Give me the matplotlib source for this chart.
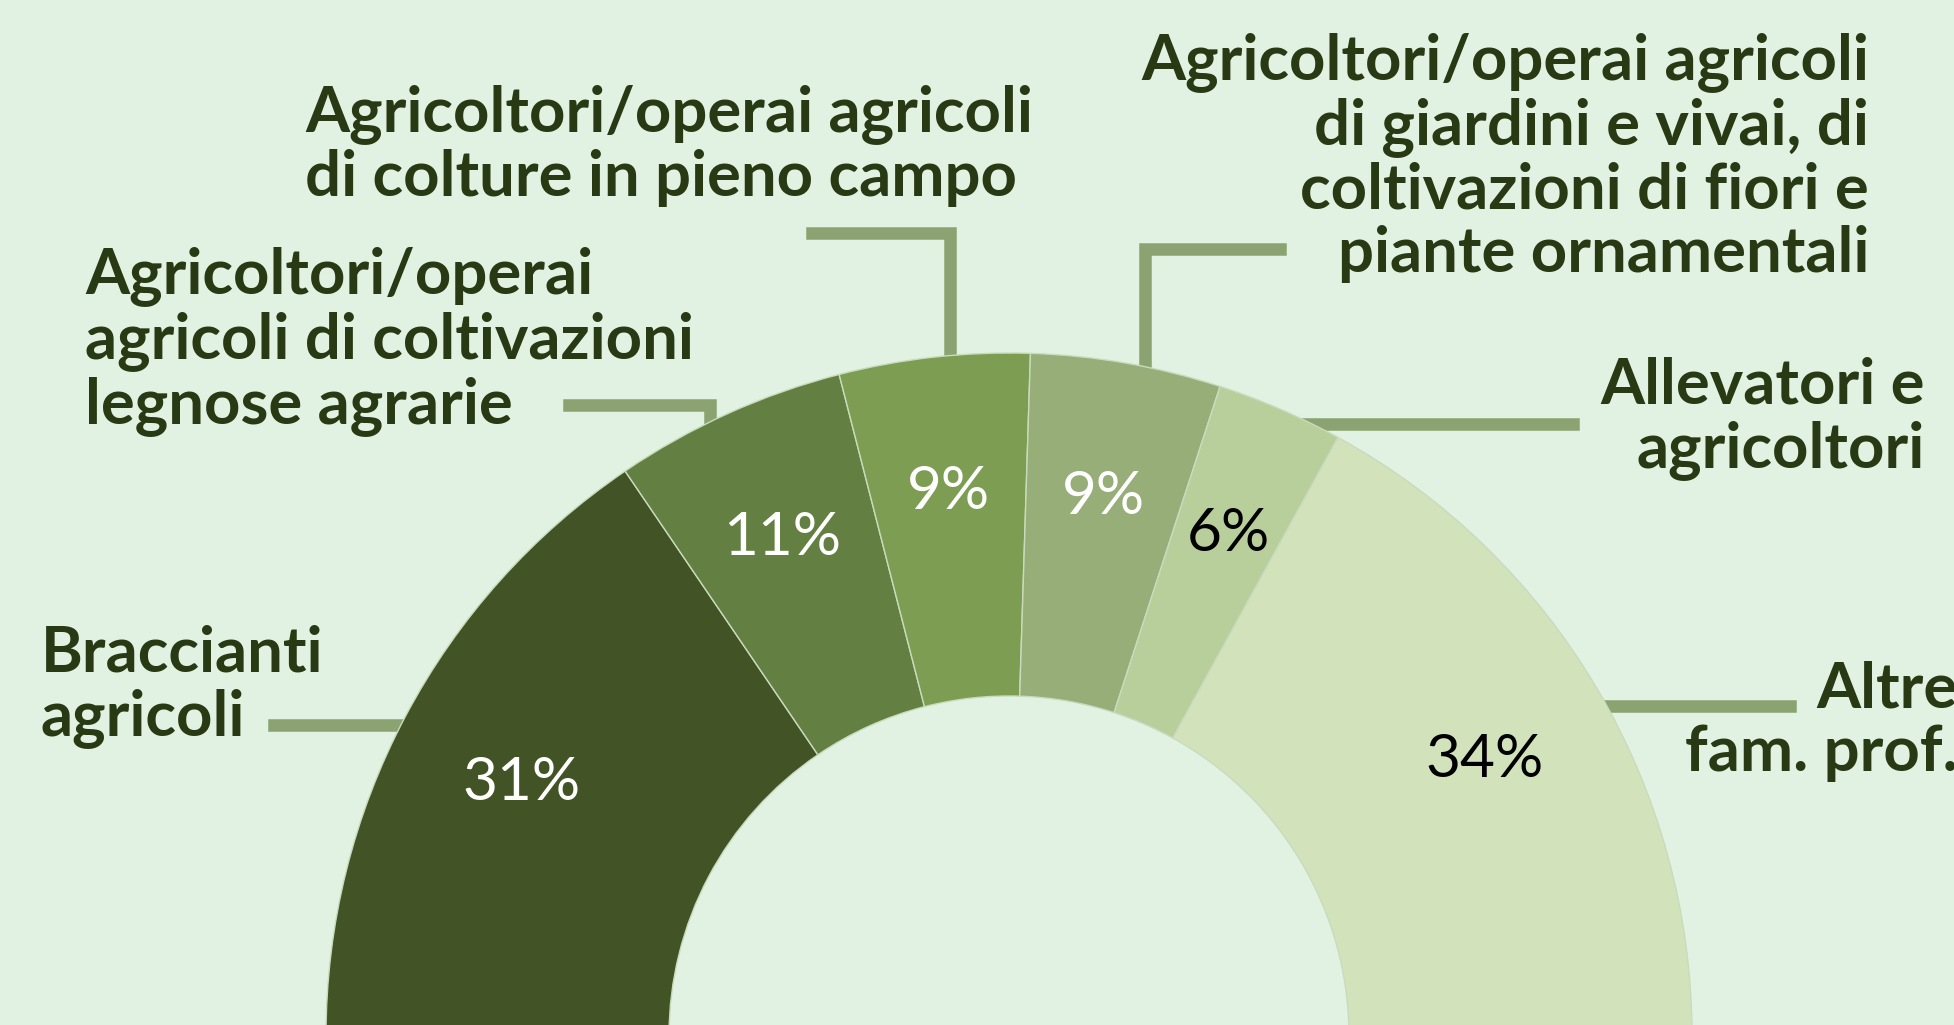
import numpy as np
import matplotlib.pyplot as plt

# canvas size in pixels (dpi 100)
W, H = 1954, 1025

# data
categories = ['Braccianti\nagricoli',
              'Agricoltori/operai\nagricoli di coltivazioni\nlegnose agrarie',
              'Agricoltori/operai agricoli\ndi colture in pieno campo',
              'Agricoltori/operai agricoli\ndi giardini e vivai, di\ncoltivazioni di fiori e\npiante ornamentali',
              'Allevatori e\nagricoltori',
              'Altre\nfam. prof.']
shares = [31, 11, 9, 9, 6, 34]
slice_colors = ['#425426', '#647f42', '#7d9d53', '#97ae78', '#b8cf9b', '#d2e3bb']
pct_colors = ['white', 'white', 'white', 'white', 'black', 'black']

bg = '#e1f2e3'
text_col = '#283a14'
leader_col = '#8aa370'

plt.rcParams['font.family'] = ['Lato', 'DejaVu Sans']

fig = plt.figure(figsize=(W / 100, H / 100), dpi=100)
fig.patch.set_facecolor(bg)
ax = fig.add_axes([0, 0, 1, 1])
ax.set_facecolor(bg)

# half donut: the visible half holds 100%, a hidden wedge fills the lower half
cx, cy = 1009, H - 1036
R, ring = 683, 343
wedges, _ = ax.pie(shares + [sum(shares)], colors=slice_colors + [bg],
                   startangle=180, counterclock=False, radius=R, center=(cx, cy),
                   wedgeprops=dict(width=ring, edgecolor='#c9dbbd', linewidth=1))
wedges[-1].set_visible(False)
for w in wedges:
    w.set_zorder(3)

# percentage labels
for w, val, col in zip(wedges[:-1], shares, pct_colors):
    ang = np.deg2rad((w.theta1 + w.theta2) / 2)
    ax.text(cx + 552 * np.cos(ang), cy + 552 * np.sin(ang), f'{val}%',
            ha='center', va='center_baseline', fontsize=43.5, color=col, zorder=5)

# category labels: (x, last-line baseline from top, alignment)
label_pos = [(41, 735, 'left'), (85, 423, 'left'), (305, 196, 'left'),
             (1869, 272, 'right'), (1925, 467, 'right'), (1958, 771, 'right')]
for name, (x, y, ha) in zip(categories, label_pos):
    ax.text(x, H - y, name, ha=ha, va='baseline', fontsize=45.7, fontweight='bold',
            color=text_col, linespacing=1.107, zorder=5)

# leader lines: ('h', y, x_end) or ('v', x, y_elbow, x_end), pixel coords from top
leaders = [('h', 725, 274), ('v', 710, 405, 569), ('v', 950, 233, 812),
           ('v', 1145, 249, 1280), ('h', 424, 1573), ('h', 706, 1790)]
r_in = R - 15
for spec in leaders:
    if spec[0] == 'h':
        y = H - spec[1]
        dx = np.sqrt(r_in ** 2 - (y - cy) ** 2)
        x0 = cx - dx if spec[2] < cx else cx + dx
        xs, ys = [x0, spec[2]], [y, y]
    else:
        x = spec[1]
        y0 = cy + np.sqrt(r_in ** 2 - (x - cx) ** 2)
        xs, ys = [x, x, spec[3]], [y0, H - spec[2], H - spec[2]]
    ax.plot(xs, ys, color=leader_col, lw=9, solid_capstyle='projecting',
            solid_joinstyle='miter', zorder=2)

ax.set_xlim(0, W)
ax.set_ylim(0, H)
ax.set_aspect('auto')
ax.axis('off')

fig.savefig('out.png', dpi=100, facecolor=bg)
